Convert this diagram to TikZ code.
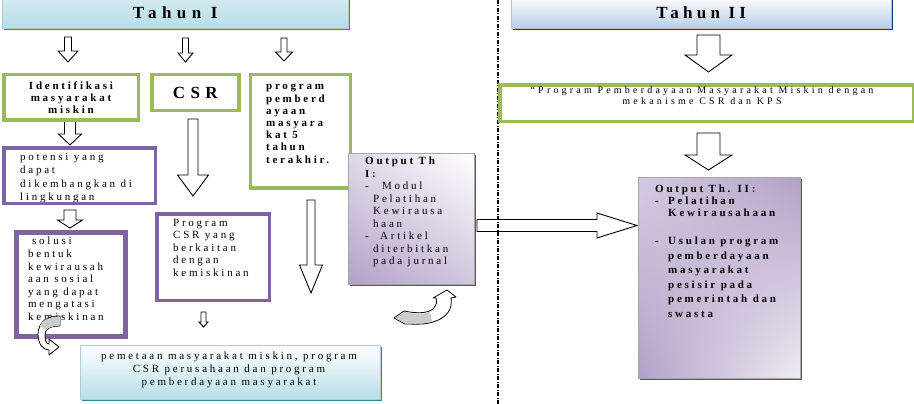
\documentclass[tikz,border=0pt]{standalone}
\usepackage{fontspec}
\setmainfont{Liberation Serif}
\newfontfamily\spaced[LetterSpace=25]{Liberation Serif}
\newfontfamily\spacedwide[LetterSpace=32]{Liberation Serif}
\usetikzlibrary{calc,shadows,shadings}

\definecolor{boxgreen}{RGB}{155,187,89}
\definecolor{boxpurple}{RGB}{128,100,162}
\definecolor{lilac}{RGB}{178,161,199}
\definecolor{barteal}{RGB}{183,222,232}
\definecolor{tealdark}{RGB}{49,133,156}
\definecolor{barblue}{RGB}{185,205,229}
\definecolor{navydark}{RGB}{23,55,94}

\tikzset{
  hollow/.style n args={3}{draw=black, fill=white, line width=0.9pt,
    to path={($(\tikztostart)!#1*1pt!90:(\tikztotarget)$)
      -- ($(\tikztotarget)!#3*1pt!(\tikztostart)!#1*1pt!90:(\tikztotarget)$)
      -- ($(\tikztotarget)!#3*1pt!(\tikztostart)!#2*1pt!90:(\tikztotarget)$)
      -- (\tikztotarget)
      -- ($(\tikztotarget)!#3*1pt!(\tikztostart)!#2*1pt!-90:(\tikztotarget)$)
      -- ($(\tikztotarget)!#3*1pt!(\tikztostart)!#1*1pt!-90:(\tikztotarget)$)
      -- ($(\tikztostart)!#1*1pt!-90:(\tikztotarget)$) -- cycle}},
  headbar/.style={anchor=south west, minimum height=31pt, inner sep=0pt,
    font=\spacedwide\bfseries\fontsize{17}{20}\selectfont},
  greenbox/.style={draw=boxgreen, line width=3.5pt, anchor=north west, inner sep=0pt},
  purplebox/.style={draw=boxpurple, line width=3.5pt, anchor=north west, inner sep=0pt},
  outbox/.style={draw=black!35, line width=0.6pt, anchor=north west, inner sep=0pt,
    drop shadow={shadow xshift=1.5pt, shadow yshift=-2pt, fill=black!65, opacity=1}},
  txt/.style={font=\spaced\fontsize{11}{12.5}\selectfont, align=left, anchor=north west, inner sep=0pt},
  txtb/.style={txt, font=\spaced\bfseries\fontsize{11}{12}\selectfont},
  curvy/.style={draw=black, line width=0.8pt, line join=round},
  divider/.style={line width=1.4pt, dash pattern=on 4pt off 1.5pt on 1pt off 1.5pt}
}

\begin{document}
\begin{tikzpicture}[x=1pt,y=-1pt]
\useasboundingbox (0,0) rectangle (914,404);

% hollow arrows
\foreach \n/\xa/\ya/\xb/\yb/\w/\h/\l in {
  a1/68/37/68/62/3.5/10/11, a2/185.5/38/185.5/62/3/7.5/9, a3/284/38/284/61/3/8.5/9,
  a4/70/121/70/145/5.5/11.5/11, a5/70/210/70/228/6/12.5/8, a6/193/119/193/196/5/15.5/21,
  a7/311/200/311/293/4/11.5/28, a8/203.5/312/203.5/327/2.5/4.5/5,
  a9/477/225.5/637/225.5/6/12.5/40,
  a10/708.5/35/708.5/72/11.5/23.5/17, a11/708.5/133/708.5/170/11.5/23.5/15}
{
  \coordinate (\n-s) at (\xa,\ya);
  \coordinate (\n-e) at (\xb,\yb);
  \draw[hollow={\w}{\h}{\l}] (\n-s) to (\n-e);
}

\draw[divider] (498,0) -- (498,404);

% year headers
\node[headbar, minimum width=346pt, top color=barteal!60!white, middle color=white, bottom color=barteal,
  draw=tealdark!40, drop shadow={shadow xshift=1.5pt, shadow yshift=-2pt, fill=tealdark, opacity=1}]
  (tahunI) at (2,28) {Tahun I};
\node[headbar, minimum width=380pt, top color=white, bottom color=barblue,
  font=\spaced\bfseries\fontsize{17}{20}\selectfont,
  draw=navydark!30, drop shadow={shadow xshift=1.5pt, shadow yshift=-2pt, fill=navydark, opacity=1}]
  (tahunII) at (511,28) {Tahun II};

% year I
\node[greenbox, minimum width=134.5pt, minimum height=45.5pt, align=center,
  font=\spaced\bfseries\fontsize{11}{12}\selectfont] (ident) at (2,73) {Identifikasi\\masyarakat\\miskin};
\node[greenbox, minimum width=87pt, minimum height=35.7pt,
  font=\spacedwide\bfseries\fontsize{17}{20}\selectfont] (csr) at (150,73) {CSR};
\node[greenbox, minimum width=100pt, minimum height=113pt] (prog) at (248.7,73) {};
\node[txtb, font=\spaced\bfseries\fontsize{11}{12.2}\selectfont] (progtxt) at (266,84)
  {program\\pemberd\\ayaan\\masyara\\kat 5\\tahun\\terakhir.};

\node[txt, font=\spaced\fontsize{11}{13.3}\selectfont] (potensitxt) at (20,153)
  {potensi yang\\dapat\\dikembangkan di\\lingkungan};
\node[purplebox, minimum width=151.7pt, minimum height=55.5pt] (potensi) at (2,146) {};

\node[purplebox, line width=5pt, minimum width=109.3pt, minimum height=104pt] (solusi) at (14,230) {};
\node[txt, font=\spaced\fontsize{11}{12.6}\selectfont] (solusitxt) at (28,237)
  {\hspace*{4pt}solusi\\bentuk\\kewirausah\\aan sosial\\yang dapat\\mengatasi\\kemiskinan};

\node[purplebox, minimum width=112.3pt, minimum height=86.7pt] (progcsr) at (155.3,212) {};
\node[txt, font=\spaced\fontsize{11}{12.4}\selectfont] (progcsrtxt) at (173,219)
  {Program\\CSR yang\\berkaitan\\dengan\\kemiskinan};

\node[outbox, minimum width=300pt, minimum height=54pt, top color=white, bottom color=barteal,
  draw=tealdark!40, drop shadow={shadow xshift=1.5pt, shadow yshift=-2pt, fill=tealdark, opacity=1}]
  (pemetaan) at (80,345) {};
\node[txt, align=center, anchor=center, font=\spaced\fontsize{11}{12.7}\selectfont] (pemetaantxt) at (229,370)
  {pemetaan masyarakat miskin, program\\CSR perusahaan dan program\\pemberdayaan masyarakat};

\node[outbox, minimum width=126pt, minimum height=131pt,
  upper left=lilac!40!white, upper right=white, lower left=lilac, lower right=lilac!60!white]
  (outI) at (348,153) {};
\node[txt] (outItxt) at (365,157)
  {\textbf{Output Th}\\\textbf{I:}\\\makebox[17pt][l]{-}Modul\\\hspace*{8pt}Pelatihan\\\hspace*{8pt}Kewirausa\\
   \hspace*{8pt}haan\\\makebox[15pt][l]{-}Artikel\\\hspace*{8pt}diterbitkan\\\hspace*{8pt}pada jurnal};

% year II
\node[greenbox, minimum width=413.5pt, minimum height=36.5pt] (pemberdayaan) at (498,83.5) {};
\node[txt, align=center, anchor=center, font=\spacedwide\fontsize{10}{11}\selectfont] (pemberdayaantxt) at (702,96)
  {“Program Pemberdayaan Masyarakat Miskin dengan\\mekanisme CSR dan KPS};

\node[outbox, minimum width=162pt, minimum height=201pt,
  upper left=lilac!55!white, upper right=lilac, lower left=lilac, lower right=lilac!20!white]
  (outII) at (638,177) {};
\node[txtb] (outIItxt) at (655,185)
  {Output Th. II:\\\makebox[13pt][l]{-}Pelatihan\\\hspace*{13pt}Kewirausahaan\\[16pt]
   \makebox[13pt][l]{-}Usulan program\\[2.5pt]\hspace*{13pt}pemberdayaan\\[2.5pt]\hspace*{13pt}masyarakat\\[2.5pt]
   \hspace*{13pt}pesisir pada\\[2.5pt]\hspace*{13pt}pemerintah dan\\[2.5pt]\hspace*{13pt}swasta};

% curved arrows
\draw[curvy, fill=white] (60,316) .. controls (45,316) and (38,324) .. (38,334)
  .. controls (38,344) and (43,350) .. (49,350) -- (49,355) -- (59,347) -- (49,339) -- (49,344)
  .. controls (46,344) and (45,340) .. (45,335) .. controls (45,329) and (50,326) .. (60,326) -- cycle;
\fill[gray!40] (60,317) .. controls (48,317) and (42,320) .. (40,326) -- (46,330)
  .. controls (49,327) and (54,326) .. (59.5,325.5) -- cycle;
\draw[curvy, fill=white] (394,318) -- (404,311) .. controls (418,314) and (428,313) .. (433,309)
  .. controls (437,305) and (437,301) .. (436,298) -- (433,298) -- (447,290) -- (456,297) -- (451,298)
  .. controls (453,310) and (446,318) .. (433,322) .. controls (424,325) and (414,324) .. (405,324) -- cycle;
\fill[gray!40] (395,318) -- (404.5,311.8) .. controls (418,315) and (426,314) .. (430,311.5)
  -- (432,321.5) .. controls (424,324) and (414,323.3) .. (405,323.3) -- cycle;
\end{tikzpicture}
\end{document}
